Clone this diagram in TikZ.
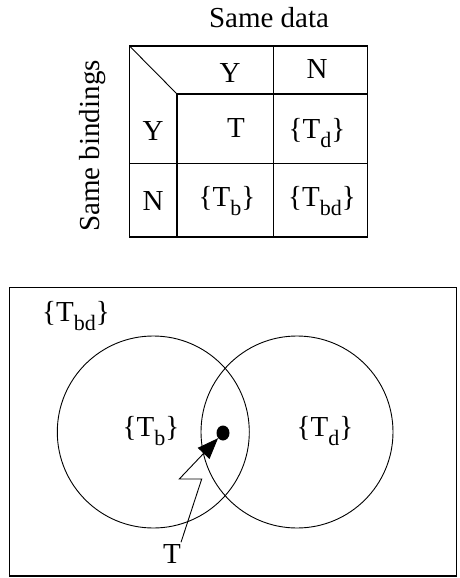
\documentclass[tikz,border=0pt]{standalone}
\usepackage{fontspec}
\setmainfont{Liberation Serif}
\usetikzlibrary{arrows.meta,shapes.geometric}
\newcommand\subs[1]{\raisebox{-0.32em}{\fontsize{22}{24}\selectfont #1}}
\tikzset{
  lbl/.style={inner sep=0pt, font=\fontsize{29}{32}\selectfont},
  thick line/.style={line width=1.8pt},
  thin line/.style={line width=0.9pt},
}
\begin{document}
\begin{tikzpicture}[x=1pt,y=-1pt]
\useasboundingbox (0,0) rectangle (460,578);
% table
\coordinate (tl) at (129.5,46);
\coordinate (br) at (367.5,237);
\draw[thick line] (tl) rectangle (br);
\draw[thin line] (tl) -- (177,94);
\draw[thick line] (177,94) -- (177,237);
\draw[thick line] (177,94) -- (367.5,94);
\draw[thick line] (273.5,46) -- (273.5,237);
\draw[thick line] (129.5,163.5) -- (367.5,163.5);
\node[lbl] (sd) at (269,18) {Same data};
\node[lbl, rotate=90] (sb) at (93,146) {Same bindings};
\node[lbl] (hy) at (230,73) {Y};
\node[lbl] (hn) at (317,69) {N};
\node[lbl] (ry) at (153,131) {Y};
\node[lbl] (rn) at (153,201) {N};
\node[lbl] (cT) at (236,128) {T};
\node[lbl] (cd) at (317,133) {\textbraceleft T\subs{d}\textbraceright};
\node[lbl] (cb) at (227,201) {\textbraceleft T\subs{b}\textbraceright};
\node[lbl] (cbd) at (322,201) {\textbraceleft T\subs{bd}\textbraceright};
% venn
\draw[thick line] (9.5,287.5) rectangle (456.5,576);
\node[lbl] (bd) at (76,316) {\textbraceleft T\subs{bd}\textbraceright};
\draw[thin line] (153.3,432) circle (96);
\draw[thin line] (297,432) circle (96);
\node[lbl] (lb) at (151,431) {\textbraceleft T\subs{b}\textbraceright};
\node[lbl] (ld) at (325,431) {\textbraceleft T\subs{d}\textbraceright};
\node[ellipse, fill=black, inner sep=0pt, minimum width=13pt, minimum height=15pt] (dot) at (223,433) {};
\node[lbl] (tt) at (172,554) {T};
\coordinate (z1) at (201.7,479);
\coordinate (z2) at (179.3,479);
\draw[thin line, -{Triangle[length=21pt,width=16pt]}] (tt.north) ++(9,-2) -- (z1) -- (z2) -- (dot);
\end{tikzpicture}
\end{document}
